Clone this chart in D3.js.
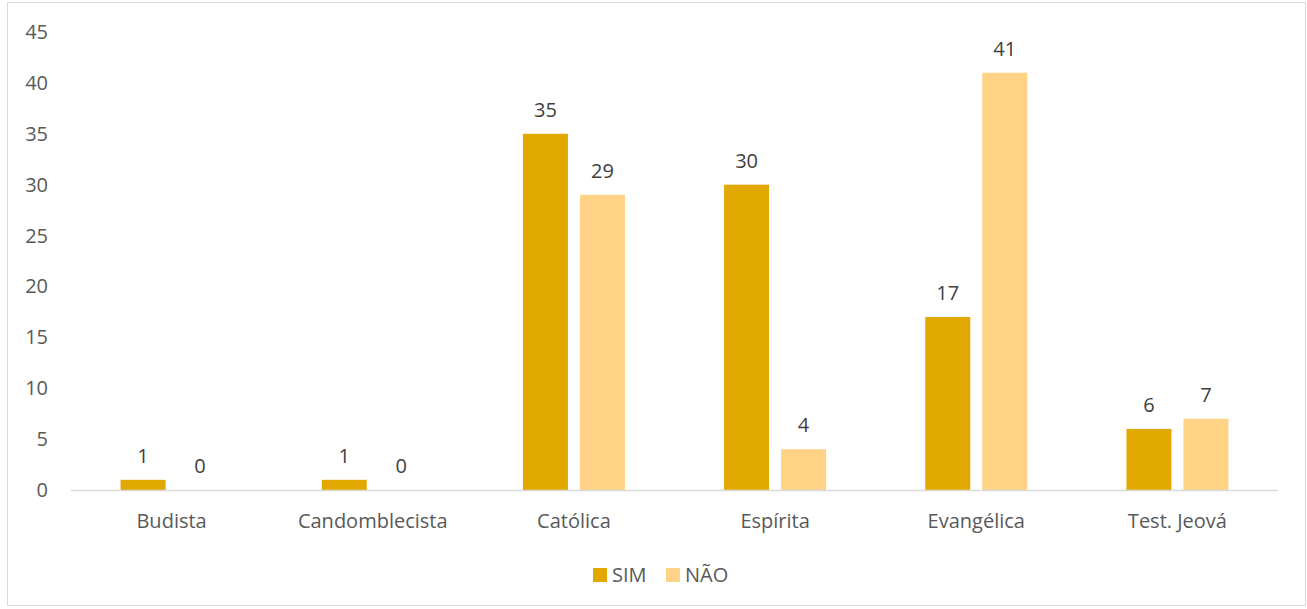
<!doctype html>
<html>
  <head>
    <meta charset="utf-8">
    <script src="https://cdnjs.cloudflare.com/ajax/libs/d3/7.8.5/d3.min.js"></script>
    <style>
      body { margin: 0; background: #fff; }
      text { font-family: "Open Sans", "Noto Sans", sans-serif; fill: #595959; font-size: 20px; }
      .value { fill: #404040; }
    </style>
  </head>
  <body>
    <svg id="chart" width="1307" height="609"></svg>
    <script>
      var categories = ["Budista", "Candomblecista", "Católica", "Espírita", "Evangélica", "Test. Jeová"];
      var seriesNames = ["SIM", "NÃO"];
      var simValues = [1, 1, 35, 30, 17, 6];
      var naoValues = [0, 0, 29, 4, 41, 7];
      var yTicks = [0, 5, 10, 15, 20, 25, 30, 35, 40, 45];
      var colors = { "SIM": "#E0A800", "NÃO": "#FFD285" };

      var data = categories.map((c, i) => ({ cat: c, SIM: simValues[i], "NÃO": naoValues[i] }));

      var svg = d3.select("#chart");

      // outer border
      svg.append("rect")
        .attr("x", 7.5).attr("y", 2.5)
        .attr("width", 1298).attr("height", 603)
        .attr("fill", "none").attr("stroke", "#d9d9d9");

      var x0 = d3.scaleBand().domain(categories).range([71, 1278]);
      var mid = x0.bandwidth() / 2;
      var x1 = d3.scaleBand().domain(seriesNames)
        .range([mid - 51, mid + 51]).paddingInner(0.21);
      var y = d3.scaleLinear().domain([0, 45]).range([490, 32]);

      // y tick labels
      svg.append("g").selectAll("text")
        .data(yTicks).enter()
        .append("text")
          .attr("x", 48)
          .attr("y", d => y(d))
          .attr("dy", "0.35em")
          .attr("text-anchor", "end")
          .text(d => d);

      var groups = svg.append("g").selectAll("g")
        .data(data).enter()
        .append("g")
          .attr("transform", d => `translate(${x0(d.cat)},0)`);

      groups.selectAll("rect")
        .data(d => seriesNames.map(s => ({ s: s, v: d[s] }))).enter()
        .append("rect")
          .attr("x", d => x1(d.s))
          .attr("y", d => y(d.v))
          .attr("width", x1.bandwidth())
          .attr("height", d => y(0) - y(d.v))
          .attr("fill", d => colors[d.s]);

      groups.selectAll("text.value")
        .data(d => seriesNames.map(s => ({ s: s, v: d[s] }))).enter()
        .append("text")
          .attr("class", "value")
          .attr("x", d => x1(d.s) + x1.bandwidth() / 2)
          .attr("y", d => y(d.v) - 17)
          .attr("text-anchor", "middle")
          .text(d => d.v);

      // baseline
      svg.append("line")
        .attr("x1", 71).attr("x2", 1278)
        .attr("y1", y(0) + 0.5).attr("y2", y(0) + 0.5)
        .attr("stroke", "#d9d9d9").attr("stroke-width", 1.5);

      // category labels
      svg.append("g").selectAll("text")
        .data(categories).enter()
        .append("text")
          .attr("x", d => x0(d) + mid)
          .attr("y", 528)
          .attr("text-anchor", "middle")
          .text(d => d);

      // legend
      var legend = svg.append("g").selectAll("g")
        .data(seriesNames).enter()
        .append("g")
          .attr("transform", (d, i) => `translate(${593 + i * 73},568)`);
      legend.append("rect")
        .attr("width", 14).attr("height", 14)
        .attr("fill", d => colors[d]);
      legend.append("text")
        .attr("x", 19).attr("y", 7)
        .attr("dy", "0.35em")
        .text(d => d);
    </script>
  </body>
</html>
